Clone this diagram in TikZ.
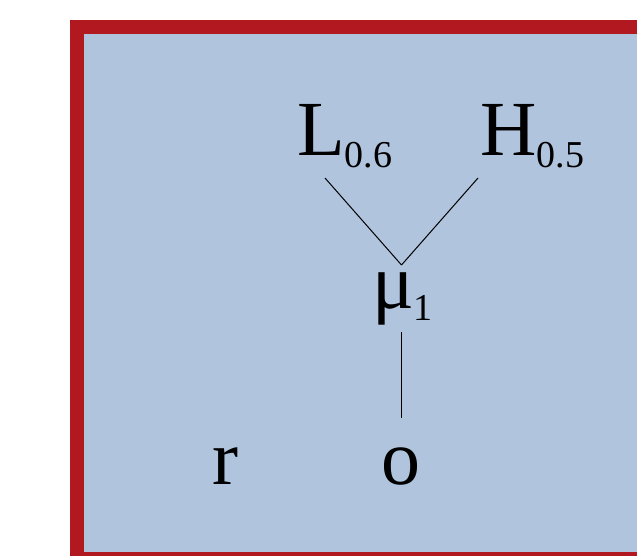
\documentclass[tikz,border=0pt]{standalone}
\usepackage{fontspec}
\setmainfont{Liberation Serif}
\definecolor{frameRed}{RGB}{178,24,32}
\definecolor{panelBlue}{RGB}{176,196,222}
\newcommand{\bigtxt}{\fontsize{78}{80}\selectfont}
\newcommand{\subtxt}[1]{\raisebox{-12pt}{\fontsize{38}{40}\selectfont #1}}
\begin{document}
\begin{tikzpicture}[x=1pt,y=-1pt,
  lbl/.style={anchor=base west,inner sep=0pt,outer sep=0pt,font=\bigtxt},
  edge/.style={line width=1pt,draw=black}]
\useasboundingbox (0,0) rectangle (637,555);
\clip (0,0) rectangle (637,555);
\draw[line width=14pt,draw=frameRed,fill=panelBlue] (77,27) rectangle (700,559);
\node[lbl] (L) at (297,155) {L\subtxt{0.6}};
\node[lbl] (H) at (480.5,155) {H\subtxt{0.5}};
\node[lbl] (mu) at (372,308) {μ\subtxt{1}};
\node[lbl] (r) at (212.5,484) {r};
\node[lbl] (o) at (381,484) {o};
\coordinate (Lend) at (325,178);
\coordinate (Hend) at (478,178);
\coordinate (apex) at (401.5,265);
\coordinate (mutop) at (401.5,265);
\coordinate (mubot) at (401.5,332);
\coordinate (otop) at (401.5,418);
\draw[edge] (Lend) -- (apex);
\draw[edge] (Hend) -- (apex);
\draw[edge] (mubot) -- (otop);
\end{tikzpicture}
\end{document}
